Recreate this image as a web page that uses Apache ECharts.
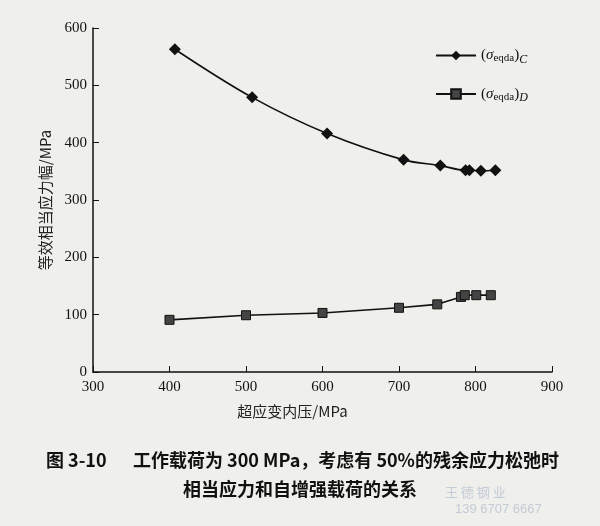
<!DOCTYPE html>
<html><head><meta charset="utf-8">
<script src="https://cdn.jsdelivr.net/npm/echarts@6/dist/echarts.min.js"></script>
<style>html,body{margin:0;padding:0;background:#efefec;}#c{width:600px;height:526px;}</style>
</head><body><div id="c"></div>
<script>
const xC = [407, 508, 606, 706, 754, 787, 792, 807, 826];
const yC = [563, 479, 416, 370, 360, 352, 352, 351, 352];
const xD = [400, 500, 600, 700, 750, 781, 786, 801, 820];
const yD = [91, 99, 103, 112, 118, 131, 134, 134, 134];
const xTicks = [300, 400, 500, 600, 700, 800, 900];
const yTicks = [0, 100, 200, 300, 400, 500, 600];
const nameC = '{p|(}{s|σ}{sub|eqda}{p|)}{sub2|C}';
const nameD = '{p|(}{s|σ}{sub|eqda}{p|)}{sub2|D}';
const xName = '超应变内压/MPa';
const yName = '等效相当应力幅/MPa';
const captionFig = '图 3-10';
const caption1 = '工作载荷为 300 MPa，考虑有 50%的残余应力松弛时';
const caption2 = '相当应力和自增强载荷的关系';

const chart = echarts.init(document.getElementById('c'), null, {renderer: 'canvas'});
const serif = '"Liberation Serif", "DejaVu Serif", serif';
const cjk = '"Noto Sans CJK SC", sans-serif';
const legendRich = {
  p: {fontFamily: serif, fontSize: 15, color: '#111'},
  s: {fontFamily: serif, fontSize: 15, fontStyle: 'italic', color: '#111'},
  sub: {fontFamily: serif, fontSize: 11, color: '#111', padding: [6, 0, 0, 0]},
  sub2: {fontFamily: serif, fontSize: 12, fontStyle: 'italic', color: '#111', padding: [8, 0, 0, 0]}
};
chart.setOption({
  backgroundColor: '#efefec',
  animation: false,
  grid: {left: 93, right: 48, top: 28, bottom: 154, containLabel: false},
  legend: {
    orient: 'vertical', left: 430, top: 43, itemGap: 21,
    itemWidth: 40, itemHeight: 12,
    textStyle: {rich: legendRich},
    data: [{name: nameC}, {name: nameD}]
  },
  xAxis: {
    type: 'value', min: 300, max: 900, interval: 100,
    name: xName, nameLocation: 'middle', nameGap: 32,
    nameTextStyle: {fontFamily: cjk, fontSize: 15, color: '#222', padding: [0, 60, 0, 0]},
    axisLine: {lineStyle: {color: '#111', width: 1.5}},
    axisTick: {inside: true, length: 6, lineStyle: {color: '#111'}},
    axisLabel: {fontFamily: serif, fontSize: 15, color: '#111', margin: 8},
    splitLine: {show: false}
  },
  yAxis: {
    type: 'value', min: 0, max: 600, interval: 100,
    name: yName, nameLocation: 'middle', nameGap: 40,
    nameTextStyle: {fontFamily: cjk, fontSize: 15, color: '#222'},
    axisLine: {show: true, lineStyle: {color: '#111', width: 1.5}},
    axisTick: {show: true, inside: true, length: 6, lineStyle: {color: '#111'}},
    axisLabel: {fontFamily: serif, fontSize: 15, color: '#111', margin: 6},
    splitLine: {show: false}
  },
  series: [
    {
      name: nameC, type: 'line', smooth: 0.35,
      data: xC.map((x, i) => [x, yC[i]]),
      symbol: 'diamond', symbolSize: 12,
      itemStyle: {color: '#111'},
      lineStyle: {color: '#111', width: 1.6}
    },
    {
      name: nameD, type: 'line', smooth: false,
      data: xD.map((x, i) => [x, yD[i]]),
      symbol: 'rect', symbolSize: 9,
      itemStyle: {color: '#444', borderColor: '#111', borderWidth: 1},
      lineStyle: {color: '#111', width: 1.6}
    }
  ],
  graphic: [
    {type: 'text', left: 46, top: 451, style: {text: captionFig, font: 'bold 18px "Noto Sans CJK SC", sans-serif', fill: '#111'}},
    {type: 'text', left: 133, top: 451, style: {text: caption1, font: 'bold 18px "Noto Sans CJK SC", sans-serif', fill: '#111'}},
    {type: 'text', left: 'center', top: 480, style: {text: caption2, font: 'bold 18px "Noto Sans CJK SC", sans-serif', fill: '#111'}},
    {type: 'text', left: 445, top: 486, style: {text: '王 德 钢 业', font: '13px "Noto Sans CJK SC", sans-serif', fill: '#c3cbd8'}},
    {type: 'text', left: 455, top: 503, style: {text: '139 6707 6667', font: '13px "Liberation Sans", sans-serif', fill: '#c3cbd8'}}
  ]
});
</script></body></html>
